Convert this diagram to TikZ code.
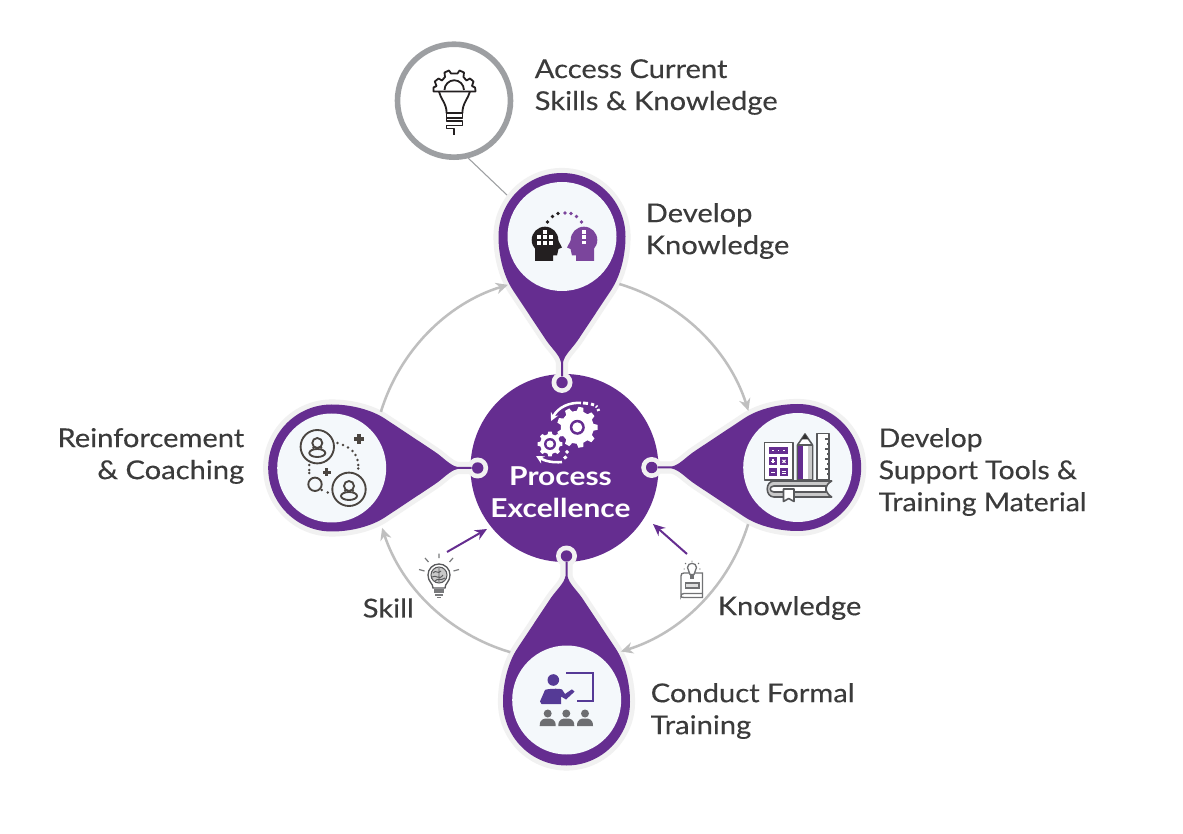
\documentclass[tikz,border=0pt]{standalone}
\usepackage{fontspec}
\setmainfont{Lato}[FakeStretch=1.12,FakeBold=0.25,BoldFeatures={FakeStretch=1.15,FakeBold=0}]
\newfontfamily\lblnarrow{Lato}[FakeStretch=1.09,FakeBold=0.25]
\usetikzlibrary{arrows.meta,calc}
\definecolor{ppl}{HTML}{652D90}
\definecolor{haloc}{HTML}{F1F1F1}
\definecolor{innerc}{HTML}{F4F8FB}
\definecolor{arcc}{HTML}{BFBFBF}
\definecolor{txtc}{HTML}{3B3B3B}
\definecolor{ringc}{HTML}{9D9FA2}
\definecolor{icong}{HTML}{58595B}
\definecolor{iconl}{HTML}{C9C9C9}
\definecolor{ppll}{HTML}{7B459C}
\definecolor{pplb}{HTML}{553A96}
\definecolor{audc}{HTML}{6D6E71}
\definecolor{blk}{HTML}{231F20}
\definecolor{darkic}{HTML}{4A4540}
\tikzset{
  lbl/.style={font=\fontsize{19.5}{24}\selectfont,text=txtc,inner sep=0pt,align=left,anchor=west},
  lblr/.style={lbl,align=right,anchor=east},
  hubcircle/.style={circle,fill=ppl,minimum size=188*.75pt,inner sep=0pt},
  hubtext/.style={font=\fontsize{19.5}{24}\selectfont\bfseries,text=white,inner sep=0pt,align=center},
  headnode/.style={circle,minimum size=137*.75pt,inner sep=0pt},
  innerdisc/.style={circle,fill=innerc,minimum size=109*.75pt,inner sep=0pt},
  accessring/.style={circle,draw=ringc,line width=4.2pt,fill=white,minimum size=113*.75pt,inner sep=0pt},
  cycarrow/.style={draw=arcc,line width=1.9pt,-{Stealth[length=9pt,width=8.5pt]}},
  inarrow/.style={draw=ppl,line width=1.5pt,-{Stealth[length=9pt,width=8pt]}},
  linkline/.style={draw=ringc,line width=.8pt},
  ic/.style={draw=icong,line width=1.2pt,line join=round},
  bk/.style={draw=blk,line width=1.35pt,line join=round},
  dk/.style={draw=darkic,line width=1.4pt},
}
\newcommand{\pinshape}[3]{%
 \begin{scope}[shift={(#1,#2)},rotate=#3]
  \def\pinpath{(0,63.5) .. controls (-35,63.5) and (-63.5,35) .. (-63.5,0) .. controls (-63.5,-35) and (-35,-63.5) .. (0,-63.5) .. controls (20,-63.5) and (40,-58) .. (53,-49.5) -- (102,-17) .. controls (112,-10.5) and (118,-2.5) .. (126,-1) -- (140,-1) -- (140,1) -- (126,1) .. controls (118,2.5) and (112,10.5) .. (102,17) -- (53,49.5) .. controls (40,58) and (20,63.5) .. (0,63.5) -- cycle}
  \draw[haloc,line width=7.6pt,line join=round] \pinpath;
  \fill[haloc] (146,0) circle (10.5);
  \fill[ppl] \pinpath;
  \fill[ppl] (146,0) circle (5.7);
 \end{scope}}
\newcommand{\mygear}[6]{%
 \pgfmathsetmacro\st{360/#5}
 \fill[shift={(#1,#2)},#6] ({.3*\st}:#4) \foreach \i in {1,...,#5}{ -- ({(\i-.3)*\st}:#4) -- ({(\i-.17)*\st}:#3) -- ({(\i+.17)*\st}:#3) -- ({(\i+.3)*\st}:#4)} -- cycle;}
\newcommand{\headshape}[4]{%
 \fill[shift={(#1,#2)},xscale=#3,#4] (0,0) circle (13.3);
 \fill[shift={(#1,#2)},xscale=#3,#4] (-10,5) -- (-10,21) -- (8,21) -- (8,15.5) -- (12,15.5) -- (13.5,9) -- (17,7.5) -- (13,0) -- cycle;}
\newcommand{\personic}[2]{%
 \draw[dk] (#1,#2-4) circle (5);
 \draw[dk] (#1-4.5,#2+1.5) -- (#1-3,#2-.5);
 \draw[dk] (#1+4.5,#2+1.5) -- (#1+3,#2-.5);
 \draw[dk,fill=innerc] (#1,#2+6) ellipse (8 and 4);}
\newcommand{\audience}[1]{%
 \fill[audc] (#1,713.5) circle (4);
 \fill[audc] (#1-8,726) .. controls (#1-8,719) and (#1-4,718.5) .. (#1,718.5) .. controls (#1+4,718.5) and (#1+8,719) .. (#1+8,726) -- cycle;}
\begin{document}
\begin{tikzpicture}[x=.75pt,y=-.75pt]
\useasboundingbox (0,0) rectangle (1183,834);
\fill[white] (0,0) rectangle (1183,834);
% hub and pins
\node[hubcircle] (hub) at (564.5,468) {};
\pinshape{562}{236.5}{-90}
\pinshape{797.7}{467.5}{180}
\pinshape{331.7}{468}{0}
\pinshape{566.5}{702}{90}
\node[headnode] (pinK) at (562,236.5) {};
\node[headnode] (pinS) at (797.7,467.5) {};
\node[headnode] (pinR) at (331.7,468) {};
\node[headnode] (pinT) at (566.7,700) {};
\node[innerdisc] (discK) at (pinK) {};
\node[innerdisc] (discS) at (pinS) {};
\node[innerdisc] (discR) at (pinR) {};
\node[innerdisc] (discT) at (pinT) {};
% access circle
\node[accessring] (access) at (454,100.7) {};
\draw[linkline] (access.-76.5) -- (pinK.143.5);
% cycle arcs
\coordinate (c) at (564.5,468);
\coordinate (a1) at ($(c)+(73.4:144pt)$);
\coordinate (a2) at ($(c)+(-17:144pt)$);
\coordinate (a3) at ($(c)+(-106.4:144pt)$);
\coordinate (a4) at ($(c)+(163:144pt)$);
\draw[cycarrow] (a1) arc[start angle=73.4,end angle=17.6,radius=145pt];
\draw[cycarrow] (a2) arc[start angle=-17,end angle=-72.9,radius=144pt];
\draw[cycarrow] (a3) arc[start angle=-106.4,end angle=-161.8,radius=144pt];
\draw[cycarrow] (a4) arc[start angle=163,end angle=107,radius=143.5pt];
% input arrows
\coordinate (skillfrom) at (447,552);
\coordinate (skillto) at (487,529);
\coordinate (knfrom) at (687,554);
\coordinate (knto) at (653,524);
\draw[inarrow] (skillfrom) -- (skillto);
\draw[inarrow] (knfrom) -- (knto);
% hub icon
\mygear{577.3}{427.3}{20.5}{16.5}{9}{white}
\fill[ppl] (577.3,427.3) circle (7.5);
\fill[white] (577.3,427.3) circle (5);
\mygear{550}{444}{12.5}{10}{8}{white}
\fill[ppl] (550,444) circle (6);
\fill[white] (550,444) circle (3.6);
\begin{scope}[white,line width=1.9pt]
\draw[-{Stealth[length=6pt,width=6pt]}] (581,403) .. controls (570,402) and (558,407) .. (551,421);
\draw[line width=2.2pt] (583,403) -- (588,403.5);
\draw[line width=2.2pt] (591,404) -- (594,405);
\draw[line width=2.2pt] (596,406) -- (597,407);
\draw[line width=2.2pt] (598,409) -- (598.7,411);
\draw[-{Stealth[length=6pt,width=6pt]}] (562,462) .. controls (553,463) and (545,461) .. (536,456);
\draw[line width=2.2pt] (564,458.5) -- (566.5,456.5);
\draw[line width=2.2pt] (566,453) -- (568,451);
\end{scope}
% heads icon
\headshape{545}{240}{1}{blk}
\headshape{584}{240}{-1}{ppll}
\foreach \x/\y in {539.3/237.3,545/237.3,550.7/237.3,539.3/242.9,545/242.9,550.7/242.9,545/231.8}
  \fill[white] (\x-2,\y-2) rectangle (\x+2,\y+2);
\foreach \y in {232,237,242.5}
  \fill[white] (584-1.8,\y-1.8) rectangle (584+1.8,\y+1.8);
\foreach \x/\y in {547.5/222,552.5/216.5,558/213.5}
  \fill[blk] (\x,\y) circle (1.9);
\foreach \x/\y in {565/213,571/213.5,576.5/216.5,581.5/222}
  \fill[ppll] (\x,\y) circle (1.9);
% tools icon
\draw[ic,fill=white] (764.3,442.7) rectangle (792.7,480);
\fill[ppl] (769.3,446.7) rectangle (787.7,454.3);
\foreach \x/\y in {769.3/457.3,780.3/457.3,769.3/468.3,780.3/468.3}
  \fill[ppl] (\x,\y) rectangle (\x+7.5,\y+8);
\foreach \x in {773,778.5,784} \fill[white] (\x-.9,449.6) rectangle (\x+.9,451.4);
\draw[white,line width=.8pt] (771,461.3) -- (775,461.3) (773,459.3) -- (773,463.3);
\draw[white,line width=.8pt] (782.5,459.8) -- (785.5,462.8) (785.5,459.8) -- (782.5,462.8);
\draw[white,line width=.8pt] (771,472.3) -- (775,472.3);
\draw[white,line width=.8pt] (782,471.3) -- (786,471.3) (782,473.3) -- (786,473.3);
\draw[ic,fill=white] (797.5,480) -- (797.5,445) -- (805,434) -- (812.5,445) -- (812.5,480) -- cycle;
\fill[ppl] (798.2,446) rectangle (803.3,479.3);
\fill[iconl] (808,446) rectangle (811.8,479.3);
\draw[ic] (797.5,445) -- (812.5,445);
\fill[black!80] (805,434) -- (801.5,439.5) -- (808.5,439.5) -- cycle;
\draw[ic,fill=white] (816.7,433.5) rectangle (829,480);
\foreach \y/\l in {439/4,444/2.5,449/4,454/2.5,459/4,464/2.5,469/4,474/2.5}
  \draw[icong,line width=.8pt] (829,\y) -- (829-\l,\y);
\draw[ic,fill=iconl] (831.7,481) -- (774,481) .. controls (765,481) and (765,497) .. (774,497) -- (831.7,497) .. controls (828,495) and (826,491) .. (826,489) .. controls (826,486) and (828,483) .. (831.7,481) -- cycle;
\draw[ic,fill=white] (774,486) .. controls (769,486) and (769,492) .. (774,492) -- (826,492) -- (826,486) -- cycle;
\draw[ic,fill=white] (783.5,489) -- (783.5,501.5) -- (788.7,498.5) -- (794,501.5) -- (794,489) -- cycle;
% reinforcement icon
\draw[dk] (317.3,446.7) circle (16.7);
\personic{317.3}{447}
\draw[dk] (349,489.3) circle (16.7);
\personic{349}{490}
\draw[dk] (315,484.3) circle (6.7);
\foreach \x/\y in {337.5/443,343/445,348/447.5,352.5/451,355.5/455,357.5/460,358.3/465,358.3/468.5,309.3/465,309.3/470,309.3/473,321.7/490,327.7/492.5}
  \fill[darkic] (\x,\y) circle (1.4);
\draw[darkic,line width=2.8pt] (354,439) -- (364,439) (359,434) -- (359,444);
\draw[darkic,line width=2.2pt] (323,472.3) -- (330.5,472.3) (326.7,468.5) -- (326.7,476);
% training icon
\fill[pplb] (553.3,680) circle (5.8);
\fill[pplb] (540,701.5) -- (545,690) .. controls (546,689) and (559,688) .. (562,689.5) -- (565,694) -- (572,689.3) -- (574.5,691.7) -- (566,699.5) -- (561,696.5) -- (561,704) -- (541.5,704) -- cycle;
\draw[pplb,line width=1.6pt] (566,673.3) -- (592.7,673.3) -- (592.7,701) -- (577.3,701);
\audience{547.7}
\audience{566.3}
\audience{585}
% bulb with brain
\draw[icong,line width=1pt] (433,588) .. controls (433,583) and (428,582) .. (428,575) arc[start angle=180,end angle=0,radius=8.25pt] .. controls (450,582) and (445,583) .. (445,588) -- cycle;
\draw[icong,line width=.8pt,fill=iconl] (439,575) circle (8);
\draw[icong,line width=.7pt] (433,573) .. controls (436,569) and (438,575) .. (441,571) (432,577) .. controls (436,574) and (439,581) .. (443,575) (439,568) -- (439,582) (435,581) .. controls (437,578) and (441,581) .. (445,578);
\fill[icong!80] (434,589) rectangle (444,592.5);
\fill[icong!80] (435,593.5) rectangle (443,596);
\fill[icong!80] (437,596.5) rectangle (441,598);
\draw[icong!80,line width=.9pt] (439,558) -- (439,553.5) (428.5,562) -- (425,558) (449.5,562) -- (453,558) (424.5,571) -- (419,569.5) (453.5,571) -- (459,569.5);
% book with bulb
\draw[icong!85,line width=1pt,fill=white] (684,573) -- (700.5,573) -- (702.5,573) -- (702.5,593.5) -- (684,593.5) .. controls (681.5,593.5) and (681,595) .. (681,596) -- (681,576) .. controls (681,574) and (682,573) .. (684,573) -- cycle;
\draw[icong!85,line width=1pt] (681,596) .. controls (681,597) and (682,597.5) .. (684,597.5) -- (702.5,597.5) -- (702.5,593.5);
\draw[icong!85,line width=1pt,fill=iconl!60] (685.5,583) rectangle (699,588);
\draw[icong!85,line width=1pt,fill=white] (690,574.5) .. controls (690,571.5) and (687.5,570.5) .. (687.5,567.5) .. controls (687.5,562) and (696.5,562) .. (696.5,567.5) .. controls (696.5,570.5) and (694,571.5) .. (694,574.5) -- cycle;
\fill[icong!85] (690.2,575) rectangle (693.8,579);
\draw[icong!85,line width=.7pt] (692,560.5) -- (692,562) (685,563) -- (686,564) (699,563) -- (698,564) (683.5,569) -- (684.8,569) (699.2,569) -- (700.5,569);
% access icon
\draw[bk,fill=white] (433.5,90) -- (433.5,87.5) -- (436.5,86) -- (434.8,81.5) -- (438.5,78.5) -- (442,80.5) -- (445,77) -- (444.5,72.5) -- (449,70.5) -- (451,73.5) -- (457.5,73.5) -- (459.5,70.5) -- (464,72.5) -- (463.5,77) -- (466.5,80.5) -- (470,78.5) -- (473.5,81.5) -- (472,86) -- (475,87.5) -- (475.5,90.5) -- (475.5,91.5) -- (433.5,91.5) -- cycle;
\draw[bk] (444.5,90) arc[start angle=180,end angle=0,radius=7.3pt];
\draw[bk] (439,91.5) .. controls (440,98) and (447,104) .. (446.5,113) -- (462.5,113) .. controls (462,104) and (468.5,98) .. (470,91.5);
\draw[bk] (446.5,113) -- (446.5,118) -- (462.5,118) -- (462.5,113);
\draw[bk] (446.5,118) -- (446.5,121) -- (462.5,121) -- (462.5,125.5) -- (446.5,125.5) -- (446.5,128.5) -- (454.3,128.5) -- (454.3,135);
% text
\node[hubtext] (hubtxt) at (560.5,492.5) {Process\\Excellence};
\node[lbl] (t1) at (534.5,87) {Access Current\\Skills \& Knowledge};
\node[lbl] (t2) at (645.5,231) {Develop\\Knowledge};
\node[lbl,font=\fontsize{19.5}{24}\selectfont\lblnarrow] (t3) at (878.5,472) {Develop\\Support Tools \&\\Training Material};
\node[lblr] (t4) at (244.5,456) {Reinforcement\\\& Coaching};
\node[lbl] (t5) at (650.5,711) {Conduct Formal\\Training};
\node[lbl] (t6) at (717.5,608) {Knowledge};
\node[lbl] (t7) at (362.5,608) {Skill};
\end{tikzpicture}
\end{document}
